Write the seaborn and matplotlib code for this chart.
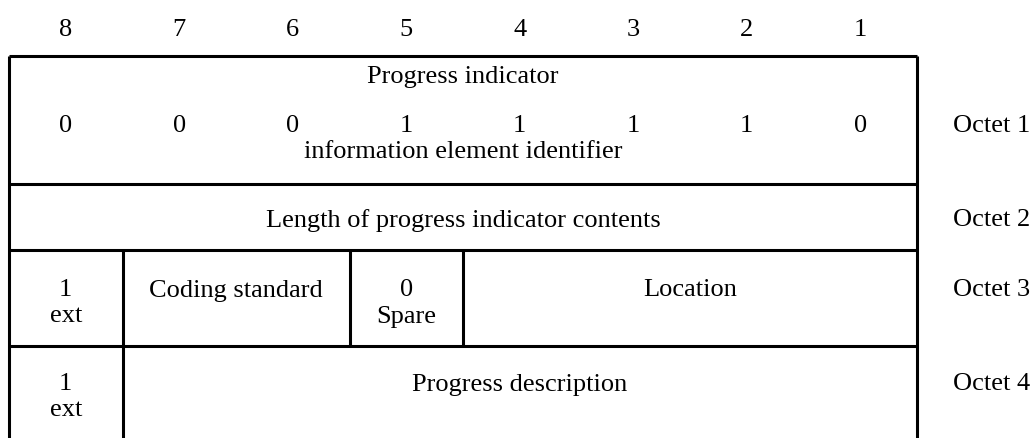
import matplotlib
matplotlib.use("Agg")
import matplotlib.pyplot as plt
import seaborn as sns

# bit positions and octet names
bit_numbers = [8, 7, 6, 5, 4, 3, 2, 1]
ie_identifier_bits = [0, 0, 0, 1, 1, 1, 1, 0]
octet_labels = ["Octet 1", "Octet 2", "Octet 3", "Octet 4"]

# fields per octet: (text, number of bit columns)
octet1_title = "Progress indicator"
octet1_caption = "information element identifier"
octet2_fields = [("Length of progress indicator contents", 8)]
octet3_fields = [("1\next", 1), ("Coding standard", 2), ("0\nSpare", 1), ("Location", 4)]
octet4_fields = [("1\next", 1), ("Progress description", 7)]

sns.set_theme(style="white")
plt.rcParams["font.family"] = ["Liberation Serif", "DejaVu Serif"]

# layout (pixels)
left, col_w = 9, 113.5
row_edges = [56, 184, 250, 346, 438]
fs = 19
line_gap = 26
lw = 2.2

fig = plt.figure(figsize=(10.34, 4.38), dpi=100)
ax = fig.add_axes([0, 0, 1, 1])
ax.set_xlim(0, 1034)
ax.set_ylim(438, 0)
ax.axis("off")

right = left + col_w * len(bit_numbers)


def col_x(i):
    return left + col_w * i


def put(x, y, s):
    lines = s.split("\n")
    y0 = y - line_gap * (len(lines) - 1) / 2
    for k, ln in enumerate(lines):
        ax.text(x, y0 + k * line_gap, ln, ha="center", va="center_baseline",
                fontsize=fs, color="black")


# bit numbers on top
for i, b in enumerate(bit_numbers):
    put(col_x(i) + col_w / 2, 27, str(b))

# outer frame (bottom left open)
ax.vlines([left, right], row_edges[0], row_edges[-1], color="black", lw=lw)
ax.hlines(row_edges[:-1], left, right, color="black", lw=lw)

# octet 1
put((left + right) / 2, 75, octet1_title)
for i, v in enumerate(ie_identifier_bits):
    put(col_x(i) + col_w / 2, 124, str(v))
put((left + right) / 2, 150, octet1_caption)

# octets 2..4
field_rows = [octet2_fields, octet3_fields, octet4_fields]
text_y = [218, 301, 395]
for r, fields in enumerate(field_rows):
    top, bot = row_edges[r + 1], row_edges[r + 2]
    start = 0
    for j, (txt, span) in enumerate(fields):
        x0, x1 = col_x(start), col_x(start + span)
        if j > 0:
            ax.vlines(x0, top, bot, color="black", lw=lw)
        if "\n" in txt:
            put((x0 + x1) / 2, text_y[r], txt)
        else:
            put((x0 + x1) / 2, text_y[r] - (line_gap / 2 if r > 0 else 0), txt)
        start += span

# octet labels
octet_y = [123, 218, 288, 382]
for lab, y in zip(octet_labels, octet_y):
    ax.text(953, y, lab, ha="left", va="center_baseline", fontsize=fs, color="black")

fig.savefig("out.png", dpi=100, facecolor="white")
